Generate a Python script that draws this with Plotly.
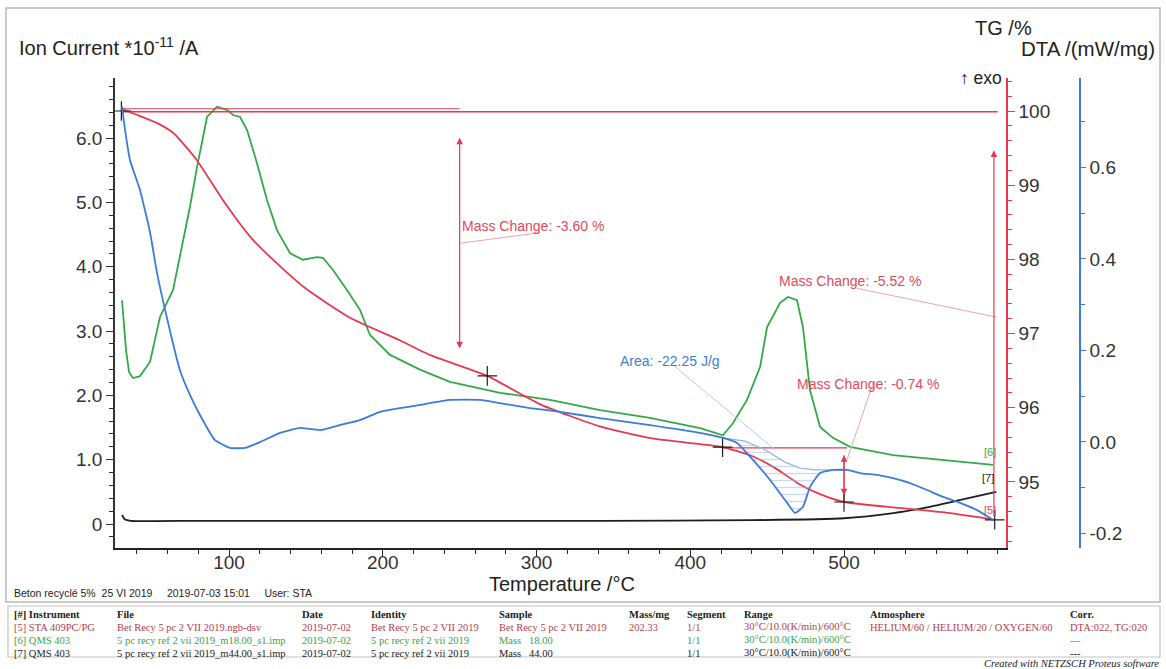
import plotly.graph_objects as go

# ---------------- measured curves ----------------
# TG (mass %, STA 409PC/PG)
tg_temp = [30, 40, 53, 64, 79, 96, 114, 131, 151, 179, 211, 231, 268, 302, 341,
           374, 406, 421, 439, 455, 471, 484, 500, 536, 569, 598]
tg_mass = [100.03, 99.95, 99.84, 99.70, 99.34, 98.80, 98.30, 97.95, 97.59, 97.21,
           96.91, 96.71, 96.43, 96.05, 95.75, 95.59, 95.51, 95.47, 95.36, 95.19,
           94.97, 94.84, 94.73, 94.65, 94.58, 94.49]

# QMS m/z 18 ion current (*1e-11 A)
ms18_temp = [30.4, 33.0, 35.0, 37.6, 42.1, 48.6, 55.1, 63.6, 74.6, 79.2, 85.7, 92.2,
             98.7, 102.6, 107.2, 111.7, 118.2, 124.7, 131.2, 139.7, 148.1, 157.2,
             161.1, 167.6, 176.7, 185.2, 191.7, 204.7, 224.2, 243.7, 276.3, 308.8,
             341.3, 373.8, 406.3, 421.3, 427.8, 436.9, 445.4, 449.9, 458.4, 463.6,
             469.4, 473.3, 476.6, 477.9, 484.4, 492.8, 503.9, 531.9, 596.9]
ms18_current = [3.48, 2.71, 2.36, 2.27, 2.30, 2.52, 3.22, 3.64, 4.93, 5.55, 6.33, 6.49,
                6.44, 6.36, 6.33, 6.13, 5.61, 5.04, 4.57, 4.21, 4.11, 4.15,
                4.14, 3.95, 3.64, 3.33, 2.94, 2.63, 2.40, 2.21, 2.04, 1.93,
                1.77, 1.65, 1.49, 1.38, 1.57, 1.93, 2.44, 3.06, 3.44, 3.53,
                3.48, 3.06, 2.35, 2.08, 1.51, 1.34, 1.20, 1.07, 0.92]

# QMS m/z 44 ion current (*1e-11 A)
ms44_temp = [30.4, 32.4, 36.0, 81.0, 211.0, 341.0, 440.0, 500.0, 532.0, 554.0, 575.0, 599.0]
ms44_current = [0.14, 0.07, 0.05, 0.05, 0.05, 0.05, 0.06, 0.09, 0.17, 0.26, 0.37, 0.50]

# DTA signal (mW/mg)
dta_temp = [30.4, 32.4, 35.6, 42.1, 48.6, 53.2, 58.4, 68.1, 74.6, 81.1, 90.9, 100.7,
            110.4, 120.2, 133.2, 146.2, 159.2, 172.2, 185.2, 198.2, 211.2, 224.2,
            243.7, 263.3, 276.3, 295.8, 315.3, 341.3, 373.8, 406.3, 421.3, 430.4,
            440.8, 451.9, 463.0, 468.1, 473.3, 477.9, 484.4, 492.8, 502.0, 510.4,
            521.5, 531.9, 542.9, 554.0, 564.4, 575.4, 586.5, 596.9]
dta_signal = [0.734, 0.682, 0.616, 0.551, 0.459, 0.369, 0.289, 0.157, 0.103, 0.059,
              0.004, -0.013, -0.013, 0.000, 0.020, 0.031, 0.026, 0.037, 0.048, 0.066,
              0.074, 0.081, 0.092, 0.092, 0.085, 0.074, 0.066, 0.052, 0.037, 0.020,
              0.009, -0.002, -0.039, -0.083, -0.133, -0.155, -0.142, -0.098, -0.068,
              -0.061, -0.061, -0.068, -0.072, -0.079, -0.090, -0.105, -0.120, -0.133,
              -0.149, -0.170]

# DTA peak integration baseline
dta_base_temp = [421.3, 435.6, 448.6, 461.6, 471.4, 481.1, 502.0]
dta_base_signal = [0.009, 0.002, -0.017, -0.044, -0.057, -0.061, -0.061]
peak_start, peak_end = 421.3, 502.0

# evaluation results
mass_change_labels = ["Mass Change: -3.60 %", "Mass Change: -5.52 %", "Mass Change: -0.74 %"]
area_label = "Area: -22.25 J/g"
mark_temp = [30, 268, 421, 500, 598]
mark_mass = [100.0, 96.43, 95.47, 94.73, 94.49]

# axes ticks
temp_ticks = [100, 200, 300, 400, 500]
ion_ticks = [0, 1, 2, 3, 4, 5, 6]
ion_ticktext = ["0", "1.0", "2.0", "3.0", "4.0", "5.0", "6.0"]
tg_ticks = [95, 96, 97, 98, 99, 100]
dta_ticks = [-0.2, 0.0, 0.2, 0.4, 0.6]
dta_ticktext = ["-0.2", "0.0", "0.2", "0.4", "0.6"]

# info table
table_header = ["[#] Instrument", "File", "Date", "Identity", "Sample", "Mass/mg",
                "Segment", "Range", "Atmosphere", "Corr."]
table_rows = [
    ["[5] STA 409PC/PG", "Bet Recy 5 pc 2 VII 2019.ngb-dsv", "2019-07-02",
     "Bet Recy 5 pc 2 VII 2019", "Bet Recy 5 pc 2 VII 2019", "202.33", "1/1",
     "30°C/10.0(K/min)/600°C", "HELIUM/60 / HELIUM/20 / OXYGEN/60", "DTA:022, TG:020"],
    ["[6] QMS 403", "5 pc recy ref 2 vii 2019_m18.00_s1.imp", "2019-07-02",
     "5 pc recy ref 2 vii 2019", "Mass   18.00", "", "1/1",
     "30°C/10.0(K/min)/600°C", "", "---"],
    ["[7] QMS 403", "5 pc recy ref 2 vii 2019_m44.00_s1.imp", "2019-07-02",
     "5 pc recy ref 2 vii 2019", "Mass   44.00", "", "1/1",
     "30°C/10.0(K/min)/600°C", "", "---"],
]

# ---------------- styling ----------------
RED = "#e8384f"
GREEN = "#35a84a"
BLUE = "#3b7dd8"
BLACK = "#1e1e1e"
ROW_COLORS = ["#b4404e", "#3aa24a", "#222222"]
SANS = "Liberation Sans, Arial, sans-serif"
SERIF = "Liberation Serif, Times New Roman, serif"

W, H = 1166, 669
L, R, T, B = 115, 86, 78, 121
PW, PH = W - L - R, H - T - B


def paper(x, y):
    """pixel position -> paper coordinates"""
    return (x - L) / PW, (H - B - y) / PH


fig = go.Figure()

# hatched DTA peak area
fig.add_trace(go.Scatter(x=dta_base_temp, y=dta_base_signal, yaxis="y3", mode="lines",
                         line=dict(color="#8fb6e6", width=1.3), hoverinfo="skip"))
seg_t = [t for t in dta_temp if peak_start <= t <= peak_end]
seg_v = [v for t, v in zip(dta_temp, dta_signal) if peak_start <= t <= peak_end]
fig.add_trace(go.Scatter(x=seg_t, y=seg_v, yaxis="y3", mode="lines",
                         line=dict(color=BLUE, width=0), fill="tonexty",
                         fillcolor="rgba(0,0,0,0)",
                         fillpattern=dict(shape="-", fgcolor="#8fb6e6",
                                          bgcolor="rgba(0,0,0,0)", size=7, solidity=0.18),
                         hoverinfo="skip"))

# curves
fig.add_trace(go.Scatter(x=ms44_temp, y=ms44_current, yaxis="y", mode="lines",
                         line=dict(color=BLACK, width=1.8, shape="spline", smoothing=0.6)))
fig.add_trace(go.Scatter(x=dta_temp, y=dta_signal, yaxis="y3", mode="lines",
                         line=dict(color=BLUE, width=1.8, shape="spline", smoothing=0.4)))
fig.add_trace(go.Scatter(x=ms18_temp, y=ms18_current, yaxis="y", mode="lines",
                         line=dict(color=GREEN, width=1.8)))

# TG reference lines
fig.add_trace(go.Scatter(x=[30, 600], y=[99.99, 99.99], yaxis="y2", mode="lines",
                         line=dict(color=RED, width=1.3)))
fig.add_trace(go.Scatter(x=[30, 250], y=[100.03, 100.03], yaxis="y2", mode="lines",
                         line=dict(color=RED, width=1.0)))
fig.add_trace(go.Scatter(x=[421.3, 502], y=[95.46, 95.46], yaxis="y2", mode="lines",
                         line=dict(color=RED, width=1.3)))
fig.add_trace(go.Scatter(x=[500, 500], y=[95.36, 94.73], yaxis="y2", mode="lines",
                         line=dict(color=RED, width=1.2)))

fig.add_trace(go.Scatter(x=tg_temp, y=tg_mass, yaxis="y2", mode="lines",
                         line=dict(color=RED, width=1.8, shape="spline", smoothing=0.5)))

# evaluation markers
fig.add_trace(go.Scatter(x=mark_temp, y=mark_mass, yaxis="y2", mode="markers",
                         marker=dict(symbol="cross-thin", size=14,
                                     line=dict(width=1.2, color=BLACK))))

# leader lines of the result labels
leaders = [
    dict(x0=250.9, y0=98.22, x1=302.3, y1=98.36, yref="y2", color="#e9a6b0"),
    dict(x0=508.5, y0=97.61, x1=599.5, y1=97.22, yref="y2", color="#e9a6b0"),
    dict(x0=518.9, y0=96.33, x1=502.0, y1=95.30, yref="y2", color="#e9a6b0"),
    dict(x0=388.8, y0=0.168, x1=453.8, y1=-0.013, yref="y3", color="#b6cde8"),
]
for ld in leaders:
    fig.add_shape(type="line", xref="x", yref=ld["yref"], x0=ld["x0"], y0=ld["y0"],
                  x1=ld["x1"], y1=ld["y1"], line=dict(color=ld["color"], width=1))

# mass-change arrows
arrows = [
    dict(x=250, top=99.64, bottom=96.78, side="end+start"),
    dict(x=597.5, top=99.47, bottom=94.52, side="end"),
    dict(x=500, top=95.36, bottom=94.80, side="end+start"),
]
for a in arrows:
    fig.add_annotation(x=a["x"], y=a["top"], ax=a["x"], ay=a["bottom"],
                       xref="x", yref="y2", axref="x", ayref="y2", text="",
                       showarrow=True, arrowhead=2, arrowsize=1.1, arrowwidth=1.2,
                       arrowcolor=RED, arrowside=a["side"])

# result labels
for txt, xt, yt in zip(mass_change_labels, [250.2, 456.4, 468.1], [98.45, 97.71, 96.32]):
    fig.add_annotation(x=xt, y=yt, xref="x", yref="y2", text=txt, showarrow=False,
                       xanchor="left", yanchor="middle",
                       font=dict(family=SANS, size=14, color="#e04a5c"))
fig.add_annotation(x=353, y=0.177, xref="x", yref="y3", text=area_label, showarrow=False,
                   xanchor="left", yanchor="middle",
                   font=dict(family=SANS, size=14, color="#3f7fcf"))

# curve ids
for txt, col, (px_, py_) in zip(["[6]", "[7]", "[5]"], [GREEN, BLACK, "#e04a5c"],
                                 [(990, 452), (988, 478), (990, 510)]):
    xp, yp = paper(px_, py_)
    fig.add_annotation(x=xp, y=yp, xref="paper", yref="paper", text=txt, showarrow=False,
                       xanchor="center", yanchor="middle",
                       font=dict(family=SANS, size=11, color=col))


# axis titles and header texts
def text_at(px_, py_, txt, size, color="#222", anchor="left", family=SANS):
    xp, yp = paper(px_, py_)
    fig.add_annotation(x=xp, y=yp, xref="paper", yref="paper", text=txt, showarrow=False,
                       xanchor=anchor, yanchor="middle",
                       font=dict(family=family, size=size, color=color))


text_at(17, 47, "Ion Current *10<sup>-11</sup> /A", 20)
text_at(1034, 28, "TG /%", 20, anchor="right")
text_at(1157, 48, "DTA /(mW/mg)", 20.5, anchor="right")
text_at(1004, 78, "↑ exo", 17.5, anchor="right")
text_at(562, 584, "Temperature /°C", 20, anchor="center")
text_at(12, 593, "Beton recyclé 5%  25 VI 2019     2019-07-03 15:01     User: STA", 10.5)
text_at(1161, 663, "<i>Created with NETZSCH Proteus software</i>", 10.5, anchor="right",
        family=SERIF)

# info table
col_x = [12, 115, 300, 369, 497, 627, 685, 742, 868, 1068]
for cx, h in zip(col_x, table_header):
    text_at(cx, 614, "<b>" + h + "</b>", 10.5, color="#222", family=SERIF)
for r, (row, col) in enumerate(zip(table_rows, ROW_COLORS)):
    for cx, cell in zip(col_x, row):
        if cell:
            text_at(cx, 627 + 13 * r, cell, 10.5, color=col, family=SERIF)

# frames
x0, y0 = paper(6, 8)
x1, y1 = paper(1160, 602)
fig.add_shape(type="rect", xref="paper", yref="paper", x0=x0, y0=y0, x1=x1, y1=y1,
              line=dict(color="#b8b8b8", width=1.5))
x0, y0 = paper(8, 606)
x1, y1 = paper(1160, 657)
fig.add_shape(type="rect", xref="paper", yref="paper", x0=x0, y0=y0, x1=x1, y1=y1,
              line=dict(color="#c4c4c4", width=1.2))

tickfont = dict(family=SANS, size=19, color="#333")
fig.update_layout(
    width=W, height=H, margin=dict(l=L, r=R, t=T, b=B),
    paper_bgcolor="white", plot_bgcolor="white", showlegend=False,
    xaxis=dict(domain=[0, 891 / PW], range=[25.85, 605.35], anchor="y",
               showgrid=False, zeroline=False, showline=True, linecolor="#222",
               linewidth=1.5, ticks="outside", ticklen=6, tickcolor="#222",
               tickvals=temp_ticks, tickfont=tickfont, ticklabelstandoff=-10,
               minor=dict(dtick=20, tick0=0, ticks="outside", ticklen=4, tickcolor="#222")),
    yaxis=dict(range=[-0.373, 6.936], side="left", anchor="x", showgrid=False,
               zeroline=False, showline=True, linecolor="#333", linewidth=1.5,
               ticks="outside", ticklen=7, tickcolor="#333", tickvals=ion_ticks,
               ticktext=ion_ticktext, tickfont=tickfont,
               minor=dict(dtick=0.2, tick0=0, ticks="outside", ticklen=4, tickcolor="#333")),
    yaxis2=dict(range=[94.11, 100.445], overlaying="y", side="right", anchor="x",
                showgrid=False, zeroline=False, showline=True, linecolor=RED,
                linewidth=1.5, ticks="outside", ticklen=7, tickcolor=RED,
                tickvals=tg_ticks, tickfont=tickfont,
                minor=dict(dtick=0.2, tick0=0, ticks="outside", ticklen=4, tickcolor=RED)),
    yaxis3=dict(range=[-0.2317, 0.7956], overlaying="y", side="right", anchor="free",
                position=1.0, showgrid=False, zeroline=False, showline=True,
                linecolor=BLUE, linewidth=1.5, ticks="outside", ticklen=5,
                tickcolor=BLUE, tickvals=dta_ticks, ticktext=dta_ticktext,
                tickfont=tickfont,
                minor=dict(dtick=0.1, tick0=0, ticks="outside", ticklen=4, tickcolor=BLUE)),
)

fig.write_html("out.html")
